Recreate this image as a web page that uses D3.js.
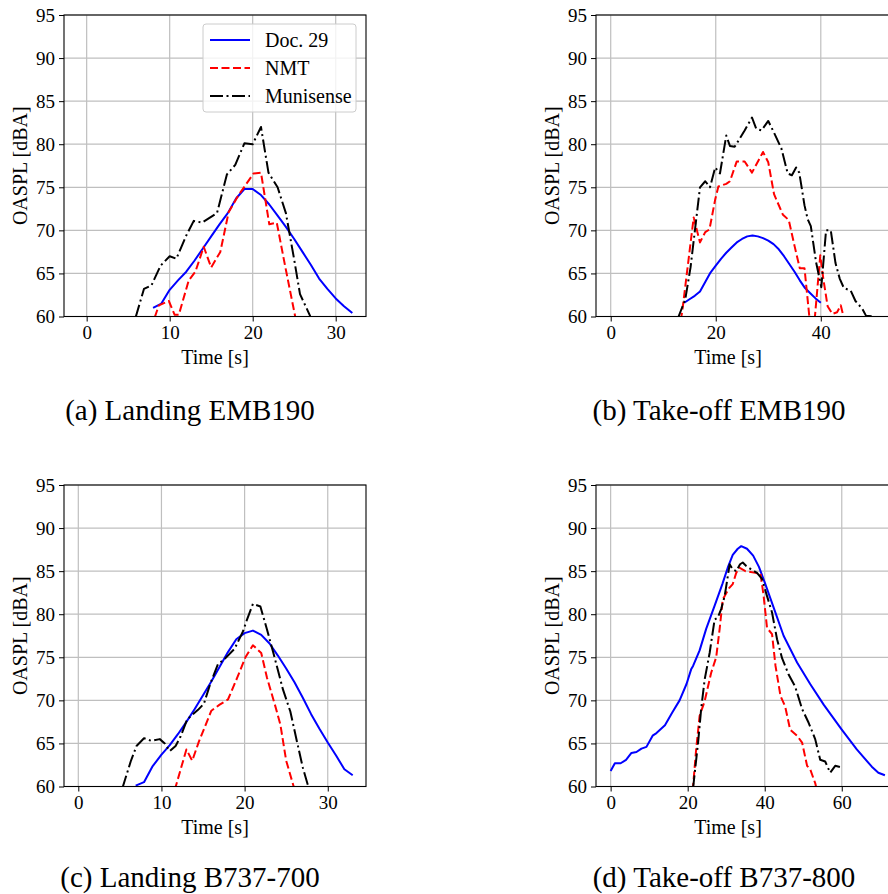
<!DOCTYPE html>
<html>
<head>
<meta charset="utf-8">
<script src="https://cdn.jsdelivr.net/npm/d3@7"></script>
<style>
  body { margin: 0; background: #fff; }
  svg { display: block; font-family: "Liberation Serif", "Times New Roman", serif; }
  .tick line { stroke: #000; }
  .domain { display: none; }
</style>
</head>
<body>
<script>
// data: [time s, OASPL dBA]
var landingEmbDoc29 = [[8,61.0],[9,61.5],[10,63.1],[11,64.2],[12,65.2],[13,66.5],[14,67.9],[15,69.3],[16,70.7],[17,72.0],[18,73.7],[19,74.8],[20,74.8],[21,74.1],[22,73.0],[23,71.7],[24,70.4],[25,69.0],[26,67.5],[27,66.0],[28,64.4],[29,63.2],[30,62.1],[31,61.2],[32,60.4]];
var landingEmbNmt = [[8.2,59.9],[8.7,61.3],[9.9,61.8],[10.6,60.2],[11.1,60.2],[12.3,64.2],[13.1,65.2],[14.1,68.1],[15.0,65.7],[16.1,67.5],[17.1,72.1],[18.3,74.1],[19.1,75.2],[20.1,76.6],[21.0,76.7],[22.0,70.7],[22.9,70.9],[23.9,65.9],[25.1,60.1],[25.3,59.0]];
var landingEmbMunisense = [[5.9,59.9],[6.9,63.2],[7.8,63.6],[8.9,65.9],[10.0,67.0],[10.8,66.7],[12.0,69.4],[12.9,71.1],[13.9,70.9],[15.7,72.0],[16.9,76.5],[17.9,77.6],[19.0,80.1],[20.0,80.0],[21.0,82.0],[21.9,76.7],[23.0,75.0],[24.0,72.0],[25.0,66.6],[25.7,62.6],[26.9,60.1],[27.1,59.5]];

var takeoffEmbDoc29 = [[14,61.6],[15,62.0],[16,62.4],[17,62.9],[18,64.0],[19,65.1],[20,65.9],[21,66.7],[22,67.4],[23,68.0],[24,68.6],[25,69.0],[26,69.3],[27,69.4],[28,69.3],[29,69.1],[30,68.8],[31,68.4],[32,67.8],[33,67.0],[34,66.1],[35,65.2],[36,64.2],[37,63.3],[38,62.7],[39,62.1],[40,61.6]];
var takeoffEmbNmt = [[13.3,59.5],[13.6,60.5],[15.8,71.5],[17.0,68.6],[18.0,69.8],[18.8,70.1],[19.9,73.6],[20.5,75.1],[22.0,75.4],[22.7,75.7],[24.0,78.0],[25.5,78.0],[26.9,76.7],[29.0,79.1],[30.0,77.9],[31.1,74.2],[32.8,71.8],[33.9,71.2],[35.0,68.2],[36.0,65.6],[36.9,65.6],[37.8,60.1],[38.3,57.0],[38.9,60.1],[39.9,67.1],[40.5,64.3],[41.3,61.2],[42.2,60.3],[43.1,60.5],[43.8,61.3],[44.4,59.8]];
var takeoffEmbMunisense = [[12.8,59.8],[13.5,60.9],[14.2,62.0],[15.2,65.7],[17.0,75.0],[18.0,75.7],[18.9,75.0],[19.9,77.3],[20.8,76.6],[22.0,81.0],[22.7,79.8],[23.6,79.7],[25.5,81.6],[26.9,83.1],[27.7,81.8],[28.7,81.6],[30.0,82.7],[31.2,81.2],[32.5,79.5],[33.7,76.6],[34.5,76.4],[35.3,77.3],[35.9,76.7],[36.9,72.9],[37.5,71.3],[38.1,70.5],[39.1,66.3],[40.1,63.4],[41.0,70.0],[41.9,70.0],[42.8,66.2],[43.6,64.4],[44.4,63.3],[45.7,63.0],[46.6,61.8],[47.9,60.9],[48.6,60.1],[49.9,60.0]];

var landingB737Doc29 = [[6.9,60.1],[7.9,60.5],[8.9,62.3],[10,63.7],[11,64.8],[12,66.1],[13,67.5],[14,69.0],[15,70.6],[16,72.2],[17,73.9],[18,75.6],[19,77.1],[20,77.8],[21,78.1],[22,77.6],[23,76.6],[24,75.2],[25,73.7],[26,72.1],[27,70.3],[28,68.4],[29,66.7],[30,65.1],[31,63.6],[32,62.0],[33,61.3]];
var landingB737Nmt = [[11.6,59.6],[13.0,64.3],[13.7,63.0],[14.5,65.2],[16.0,68.8],[17.0,69.5],[18.0,70.1],[19.1,72.6],[20.1,75.0],[21.0,76.4],[22.0,75.5],[22.7,72.6],[23.7,69.3],[24.3,67.2],[25.0,63.0],[25.9,60.0],[26.1,59.5]];
var landingB737Munisense = [[5.3,59.8],[6.3,62.9],[7.0,64.7],[7.9,65.6],[8.8,65.3],[9.8,65.5],[10.4,65.0],[11.0,64.1],[11.7,64.7],[12.3,65.8],[13.1,67.8],[14.4,68.9],[15.1,69.6],[15.9,72.0],[16.8,74.2],[17.7,74.9],[18.8,76.0],[19.8,78.0],[20.3,79.4],[21.0,81.2],[21.9,80.9],[22.7,78.2],[23.6,75.0],[24.6,71.3],[25.5,68.7],[26.3,65.2],[27.0,62.2],[27.6,60.2],[27.8,59.6]];

var takeoffB737Doc29 = [[0,61.8],[1.1,62.7],[2.6,62.7],[4.0,63.1],[5.4,63.9],[6.7,64.0],[8.0,64.4],[9.3,64.6],[10.9,65.9],[11.9,66.2],[14.1,67.1],[16.0,68.6],[17.9,70.0],[19.7,71.9],[20.9,73.6],[21.4,74.0],[23.1,75.8],[24.8,78.3],[27.0,81.0],[29.0,83.5],[30.4,85.4],[31.7,86.9],[33.0,87.6],[33.9,87.9],[35.4,87.6],[37.0,86.8],[38.5,85.5],[40.0,83.7],[42.3,80.8],[44.9,77.5],[48.4,74.4],[51.8,71.9],[55.3,69.5],[60.0,66.6],[63.9,64.3],[67.8,62.3],[69.5,61.6],[71.2,61.3]];
var takeoffB737Nmt = [[21.3,59.5],[22.2,64.3],[23.1,68.2],[24.4,69.9],[26.1,73.2],[27.4,75.0],[28.3,78.3],[29.1,81.7],[30.7,83.0],[31.7,83.5],[32.6,84.8],[33.4,85.4],[35.0,85.0],[37.6,84.8],[38.9,84.7],[39.7,82.2],[40.6,78.4],[41.9,77.7],[42.8,74.0],[44.1,70.5],[45.3,69.3],[46.6,66.6],[48.4,65.9],[49.7,65.1],[51.0,62.4],[51.8,62.0],[53.1,60.4],[53.6,59.5]];
var takeoffB737Munisense = [[21.4,59.8],[22.7,65.1],[23.5,69.0],[24.4,72.4],[25.7,75.5],[27.0,79.4],[27.8,79.6],[28.7,80.6],[29.6,82.1],[30.9,85.8],[31.7,85.2],[32.6,85.0],[33.6,85.8],[34.3,86.0],[35.2,85.6],[36.5,85.2],[38.0,84.8],[39.3,84.1],[40.6,82.1],[41.9,80.2],[43.2,77.1],[44.5,74.9],[46.2,73.0],[47.9,71.6],[49.7,69.0],[51.4,67.4],[53.1,65.5],[54.4,63.1],[55.7,62.9],[57.0,61.6],[58.3,62.4],[60.0,62.2]];

var seriesNames = ["Doc. 29", "NMT", "Munisense"];
var yTicks = [60, 65, 70, 75, 80, 85, 90, 95];
var captions = ["(a) Landing EMB190", "(b) Take-off EMB190", "(c) Landing B737-700", "(d) Take-off B737-800"];
var xTicksA = [0, 10, 20, 30], xTicksB = [0, 20, 40], xTicksC = [0, 10, 20, 30], xTicksD = [0, 20, 40, 60];

var styles = [
  {color: "#0000ff", dash: null},
  {color: "#ff0000", dash: "8,3.5"},
  {color: "#000000", dash: "13,3.5,2,3.5"}
];

var panels = [
  {left: 64, top: 15, xDomain: [-2.73, 33.65], xTicks: xTicksA, series: [landingEmbDoc29, landingEmbNmt, landingEmbMunisense], capX: 190, capY: 420, legend: true},
  {left: 596, top: 15, xDomain: [-2.8, 54.7], xTicks: xTicksB, series: [takeoffEmbDoc29, takeoffEmbNmt, takeoffEmbMunisense], capX: 719, capY: 420},
  {left: 64, top: 485, xDomain: [-1.72, 34.6], xTicks: xTicksC, series: [landingB737Doc29, landingB737Nmt, landingB737Munisense], capX: 190, capY: 887},
  {left: 596, top: 485, xDomain: [-3.8, 74.6], xTicks: xTicksD, series: [takeoffB737Doc29, takeoffB737Nmt, takeoffB737Munisense], capX: 724, capY: 887}
];
var pw = 302, ph = 301.5;

var svg = d3.select("body").append("svg").attr("width", 888).attr("height", 894);

panels.forEach(function(p, i){
  var x = d3.scaleLinear().domain(p.xDomain).range([0, pw]);
  var y = d3.scaleLinear().domain([60, 95]).range([ph, 0]);
  var g = svg.append("g").attr("transform", "translate(" + p.left + "," + p.top + ")");

  g.append("clipPath").attr("id", "clip" + i)
    .append("rect").attr("width", pw).attr("height", ph);

  // grid
  g.selectAll(".gx").data(p.xTicks).enter().append("line")
    .attr("x1", function(d){ return x(d); }).attr("x2", function(d){ return x(d); })
    .attr("y1", 0).attr("y2", ph)
    .attr("stroke", "#bfbfbf").attr("stroke-width", 1.2);
  g.selectAll(".gy").data(yTicks).enter().append("line")
    .attr("x1", 0).attr("x2", pw)
    .attr("y1", function(d){ return y(d); }).attr("y2", function(d){ return y(d); })
    .attr("stroke", "#bfbfbf").attr("stroke-width", 1.2);

  var line = d3.line()
    .x(function(d){ return x(d[0]); })
    .y(function(d){ return y(d[1]); });

  var lines = g.append("g").attr("clip-path", "url(#clip" + i + ")");
  p.series.forEach(function(s, k){
    lines.append("path").attr("d", line(s))
      .attr("fill", "none")
      .attr("stroke", styles[k].color)
      .attr("stroke-width", 2)
      .attr("stroke-dasharray", styles[k].dash)
      .attr("stroke-linejoin", "round");
  });

  // frame
  g.append("rect").attr("width", pw).attr("height", ph)
    .attr("fill", "none").attr("stroke", "#000").attr("stroke-width", 1.1);

  var xa = g.append("g").attr("transform", "translate(0," + ph + ")")
    .call(d3.axisBottom(x).tickValues(p.xTicks).tickFormat(d3.format("d")).tickSize(5).tickPadding(4));
  var ya = g.append("g")
    .call(d3.axisLeft(y).tickValues(yTicks).tickSize(5).tickPadding(4));
  [xa, ya].forEach(function(a){
    a.attr("font-family", "Liberation Serif, serif").attr("font-size", 19);
    a.selectAll("text").attr("fill", "#000");
  });

  g.append("text").attr("x", pw / 2 - (p.left > 300 ? 19 : 0)).attr("y", ph + 47)
    .attr("text-anchor", "middle").attr("font-size", 20).text("Time [s]");
  g.append("text").attr("transform", "translate(-37," + (ph / 2) + ") rotate(-90)")
    .attr("text-anchor", "middle").attr("font-size", 20).text("OASPL [dBA]");

  svg.append("text").attr("x", p.capX).attr("y", p.capY)
    .attr("text-anchor", "middle").attr("font-size", 29).text(captions[i]);

  if (p.legend) {
    var lg = g.append("g").attr("transform", "translate(139,9)");
    lg.append("rect").attr("width", 153).attr("height", 88).attr("rx", 3)
      .attr("fill", "#fff").attr("fill-opacity", 0.8).attr("stroke", "#cccccc");
    seriesNames.forEach(function(n, k){
      var yy = 16 + k * 28;
      lg.append("line").attr("x1", 7).attr("x2", 47).attr("y1", yy).attr("y2", yy)
        .attr("stroke", styles[k].color).attr("stroke-width", 2)
        .attr("stroke-dasharray", styles[k].dash);
      lg.append("text").attr("x", 62).attr("y", yy + 7).attr("font-size", 20).text(n);
    });
  }
});
</script>
</body>
</html>
